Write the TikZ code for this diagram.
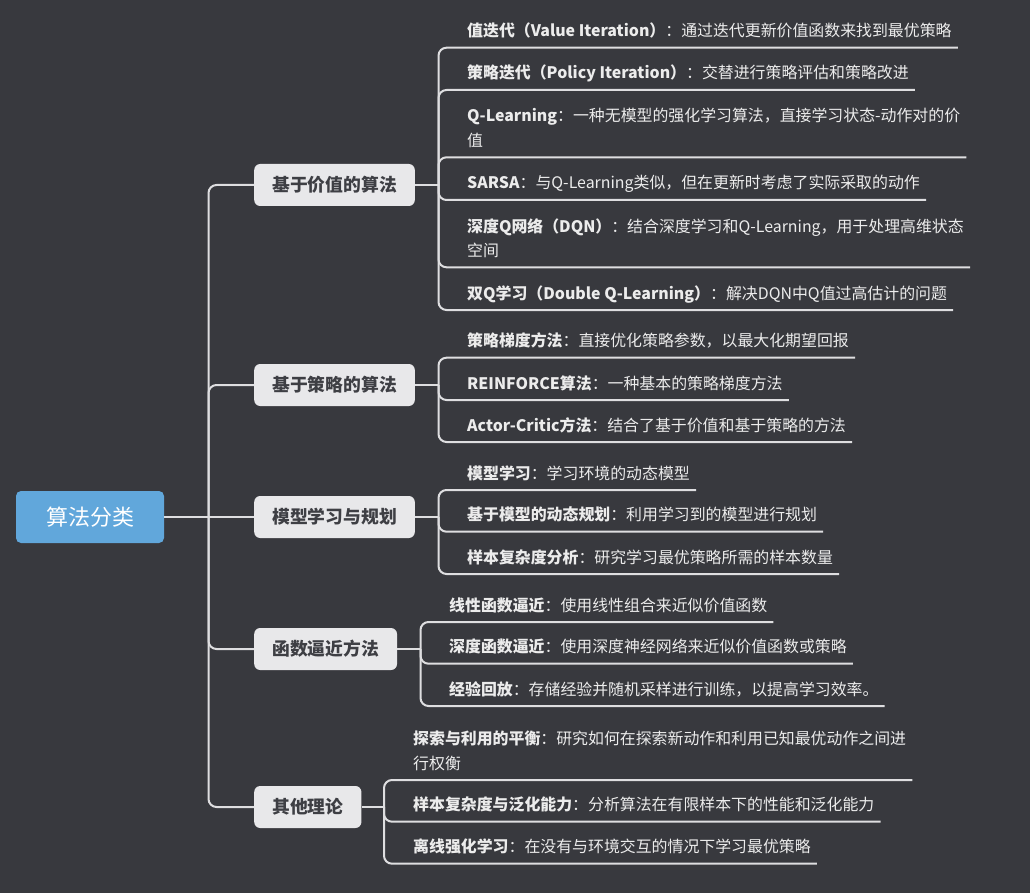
\documentclass[tikz,border=0pt]{standalone}
\usepackage{fontspec}
\setmainfont{Noto Sans CJK SC}
\usepackage{tikz}
\usetikzlibrary{positioning, calc}
\definecolor{fond}{RGB}{56,57,62}
\definecolor{bleu}{RGB}{97,167,219}
\definecolor{gris}{RGB}{232,232,234}
\definecolor{grisfonce}{RGB}{62,63,68}
\definecolor{lien}{RGB}{222,222,224}
\definecolor{texte}{RGB}{236,236,236}

\begin{document}
\begin{tikzpicture}[x=1pt, y=-1pt,
	racine/.style={fill=bleu, rounded corners=5pt, text=white, minimum width=148pt, minimum height=52pt, font=\fontsize{22}{26}\selectfont},
	theme/.style={fill=gris, rounded corners=6pt, text=grisfonce, anchor=west, minimum height=42pt, inner xsep=18pt, font=\bfseries\fontsize{17.8}{21}\selectfont},
	feuille/.style={anchor=south west, align=left, inner xsep=0pt, inner ysep=6.8pt, text depth=4pt, text=texte, font=\fontsize{15.9}{24.3}\selectfont},
	lien/.style={draw=lien, line width=2pt, rounded corners=8pt}]
	% fond
	\fill[fond] (0,0) rectangle (1030,893);
	% racine et themes
	\node[racine] (algo) at (90,517) {算法分类};
	\node[theme] (valeur) at (254,185) {基于价值的算法};
	\node[theme] (politique) at (254,385) {基于策略的算法};
	\node[theme] (modele) at (254,517) {模型学习与规划};
	\node[theme] (approx) at (254,649) {函数逼近方法};
	\node[theme] (autres) at (254,807) {其他理论};
	\coordinate (tronc) at (208.5,517);
	\draw[lien] (algo) -- (modele);
	\draw[lien] (tronc) |- (valeur);
	\draw[lien] (tronc) |- (politique);
	\draw[lien] (tronc) |- (approx);
	\draw[lien] (tronc) |- (autres);
	% jonctions des branches
	\coordinate (jv) at (438.5,185);
	\coordinate (jp) at (438.5,385);
	\coordinate (jm) at (438.5,517);
	\coordinate (ja) at (420.5,649);
	\coordinate (jo) at (384,807);
	\draw[lien] (valeur) -- (jv);
	\draw[lien] (politique) -- (jp);
	\draw[lien] (modele) -- (jm);
	\draw[lien] (approx) -- (ja);
	\draw[lien] (autres) -- (jo);
	% feuilles : base de valeur
	\node[feuille] (v1) at (467,47.7) {\textbf{值迭代（Value Iteration）}：通过迭代更新价值函数来找到最优策略};
	\node[feuille] (v2) at (467,90) {\textbf{策略迭代（Policy Iteration）}：交替进行策略评估和策略改进};
	\node[feuille] (v3) at (467,157.3) {\textbf{Q-Learning}：一种无模型的强化学习算法，直接学习状态-动作对的价\\值};
	\node[feuille] (v4) at (467,200) {\textbf{SARSA}：与Q-Learning类似，但在更新时考虑了实际采取的动作};
	\node[feuille] (v5) at (467,267.3) {\textbf{深度Q网络（DQN）}：结合深度学习和Q-Learning，用于处理高维状态\\空间};
	\node[feuille] (v6) at (467,310) {\textbf{双Q学习（Double Q-Learning）}：解决DQN中Q值过高估计的问题};
	% feuilles : base de politique
	\node[feuille] (p1) at (467,357.7) {\textbf{策略梯度方法}：直接优化策略参数，以最大化期望回报};
	\node[feuille] (p2) at (467,400) {\textbf{REINFORCE算法}：一种基本的策略梯度方法};
	\node[feuille] (p3) at (467,442) {\textbf{Actor-Critic方法}：结合了基于价值和基于策略的方法};
	% feuilles : modele
	\node[feuille] (m1) at (467,490) {\textbf{模型学习}：学习环境的动态模型};
	\node[feuille] (m2) at (467,531.7) {\textbf{基于模型的动态规划}：利用学习到的模型进行规划};
	\node[feuille] (m3) at (467,574) {\textbf{样本复杂度分析}：研究学习最优策略所需的样本数量};
	% feuilles : approximation
	\node[feuille] (a1) at (449,622) {\textbf{线性函数逼近}：使用线性组合来近似价值函数};
	\node[feuille] (a2) at (449,663.7) {\textbf{深度函数逼近}：使用深度神经网络来近似价值函数或策略};
	\node[feuille] (a3) at (449,706) {\textbf{经验回放}：存储经验并随机采样进行训练，以提高学习效率。};
	% feuilles : autres
	\node[feuille] (o1) at (413,780) {\textbf{探索与利用的平衡}：研究如何在探索新动作和利用已知最优动作之间进\\行权衡};
	\node[feuille] (o2) at (413,821.7) {\textbf{样本复杂度与泛化能力}：分析算法在有限样本下的性能和泛化能力};
	\node[feuille] (o3) at (413,863.7) {\textbf{离线强化学习}：在没有与环境交互的情况下学习最优策略};
	% soulignements
	\foreach \j/\f in {jv/v1, jv/v2, jv/v3, jv/v4, jv/v5, jv/v6, jp/p1, jp/p2, jp/p3,
		jm/m1, jm/m2, jm/m3, ja/a1, ja/a2, ja/a3, jo/o1, jo/o2, jo/o3}
		\draw[lien] (\j) |- ([xshift=6pt]\f.south east);
\end{tikzpicture}
\end{document}
